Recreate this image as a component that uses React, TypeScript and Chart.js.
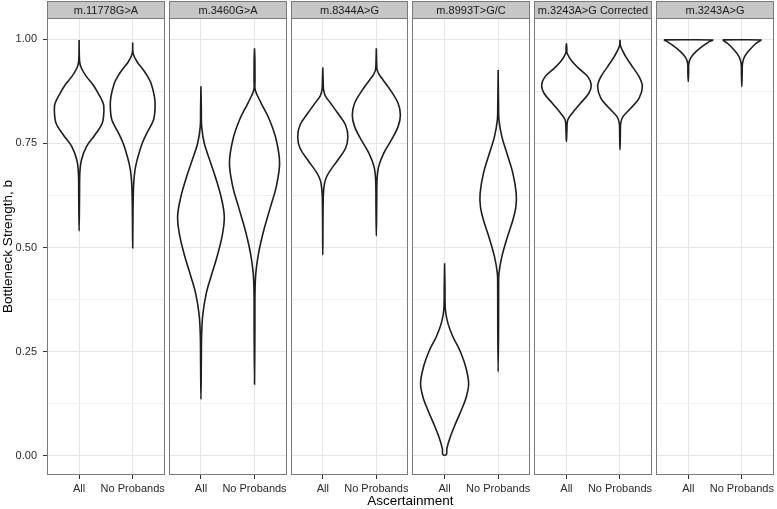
import { useEffect, useRef } from 'react';
import { Chart, registerables } from 'chart.js';

Chart.register(...registerables);

// ---- Data ----
const PANELS = ['m.11778G>A', 'm.3460G>A', 'm.8344A>G', 'm.8993T>G/C', 'm.3243A>G Corrected', 'm.3243A>G'];
const GROUPS = ['All', 'No Probands'];
const Y_TICKS = [0, 0.125, 0.25, 0.375, 0.5, 0.625, 0.75, 0.875, 1.0];

// Violin outlines: bottleneck strength b (top -> bottom) and density half-width (category units)
const B_11778_ALL = [0.998, 0.946, 0.93, 0.91, 0.89, 0.87, 0.846, 0.83, 0.798, 0.77, 0.742, 0.71, 0.678, 0.62, 0.54];
const W_11778_ALL = [0, 0.009, 0.043, 0.137, 0.262, 0.356, 0.449, 0.463, 0.431, 0.294, 0.137, 0.043, 0.013, 0.007, 0];
const B_11778_NP = [0.992, 0.965, 0.945, 0.926, 0.91, 0.894, 0.862, 0.837, 0.806, 0.774, 0.75, 0.726, 0.706, 0.686, 0.654, 0.6, 0.499];
const W_11778_NP = [0, 0.009, 0.084, 0.2, 0.281, 0.343, 0.406, 0.418, 0.388, 0.262, 0.178, 0.118, 0.075, 0.043, 0.019, 0.007, 0];

const B_3460_ALL = [0.887, 0.83, 0.79, 0.75, 0.71, 0.67, 0.622, 0.574, 0.526, 0.478, 0.43, 0.39, 0.342, 0.294, 0.23, 0.136];
const W_3460_ALL = [0, 0.007, 0.013, 0.062, 0.163, 0.268, 0.375, 0.436, 0.393, 0.3, 0.187, 0.099, 0.037, 0.013, 0.007, 0];
const B_3460_NP = [0.978, 0.95, 0.902, 0.878, 0.846, 0.806, 0.758, 0.702, 0.646, 0.598, 0.542, 0.486, 0.438, 0.39, 0.3, 0.172];
const W_3460_NP = [0, 0.007, 0.009, 0.013, 0.125, 0.281, 0.406, 0.468, 0.406, 0.3, 0.174, 0.075, 0.024, 0.009, 0.007, 0];

const B_8344_ALL = [0.932, 0.9, 0.878, 0.864, 0.85, 0.822, 0.794, 0.766, 0.738, 0.71, 0.682, 0.668, 0.654, 0.622, 0.482];
const W_8344_ALL = [0, 0.007, 0.015, 0.047, 0.125, 0.281, 0.425, 0.468, 0.425, 0.281, 0.125, 0.066, 0.032, 0.009, 0];
const B_8344_NP = [0.978, 0.94, 0.926, 0.914, 0.902, 0.874, 0.846, 0.818, 0.79, 0.758, 0.726, 0.694, 0.662, 0.6, 0.528];
const W_8344_NP = [0, 0.007, 0.015, 0.056, 0.125, 0.281, 0.406, 0.449, 0.406, 0.281, 0.137, 0.043, 0.013, 0.007, 0];

const B_8993_ALL = [0.462, 0.406, 0.35, 0.318, 0.286, 0.254, 0.214, 0.174, 0.142, 0.11, 0.078, 0.046, 0.018, 0.003];
const W_8993_ALL = [0, 0.007, 0.015, 0.062, 0.155, 0.281, 0.393, 0.449, 0.406, 0.313, 0.206, 0.107, 0.043, 0.032];
const B_8993_NP = [0.926, 0.846, 0.806, 0.766, 0.726, 0.678, 0.63, 0.598, 0.566, 0.526, 0.478, 0.438, 0.406, 0.3, 0.202];
const W_8993_NP = [0, 0.007, 0.015, 0.069, 0.163, 0.275, 0.337, 0.331, 0.275, 0.174, 0.069, 0.015, 0.009, 0.007, 0];

const B_3243C_ALL = [0.99, 0.978, 0.966, 0.946, 0.926, 0.91, 0.89, 0.87, 0.846, 0.822, 0.806, 0.782, 0.754];
const W_3243C_ALL = [0, 0.007, 0.013, 0.107, 0.262, 0.399, 0.463, 0.418, 0.262, 0.107, 0.024, 0.009, 0];
const B_3243C_NP = [0.998, 0.982, 0.958, 0.934, 0.91, 0.886, 0.858, 0.834, 0.814, 0.798, 0.774, 0.734];
const W_3243C_NP = [0, 0.013, 0.107, 0.23, 0.356, 0.418, 0.356, 0.2, 0.056, 0.013, 0.007, 0];

const B_3243_ALL = [0.998, 0.994, 0.986, 0.97, 0.956, 0.942, 0.92, 0.898];
const W_3243_ALL = [0.455, 0.393, 0.3, 0.144, 0.051, 0.011, 0.007, 0];
const B_3243_NP = [0.998, 0.994, 0.99, 0.974, 0.958, 0.942, 0.918, 0.886];
const W_3243_NP = [0.356, 0.318, 0.268, 0.144, 0.051, 0.013, 0.007, 0];

// [panel index, group index, b values, half-widths]
const VIOLINS: [number, number, number[], number[]][] = [
  [0, 0, B_11778_ALL, W_11778_ALL], [0, 1, B_11778_NP, W_11778_NP],
  [1, 0, B_3460_ALL, W_3460_ALL], [1, 1, B_3460_NP, W_3460_NP],
  [2, 0, B_8344_ALL, W_8344_ALL], [2, 1, B_8344_NP, W_8344_NP],
  [3, 0, B_8993_ALL, W_8993_ALL], [3, 1, B_8993_NP, W_8993_NP],
  [4, 0, B_3243C_ALL, W_3243C_ALL], [4, 1, B_3243C_NP, W_3243C_NP],
  [5, 0, B_3243_ALL, W_3243_ALL], [5, 1, B_3243_NP, W_3243_NP],
];

// ---- Facet layout (in x-scale units) ----
const SPAN = 2.2; // each facet: discrete scale 0.4..2.6
const GAP = 0.0746;
const STEP = SPAN + GAP;
const X_MAX = PANELS.length * SPAN + (PANELS.length - 1) * GAP;
const centerOf = (p: number, g: number) => p * STEP + 0.6 + g;
const X_TICKS: number[] = [];
PANELS.forEach((_, p) => GROUPS.forEach((__, g) => X_TICKS.push(centerOf(p, g))));

const FONT = 'Liberation Sans, Arial, Helvetica, sans-serif';

function outline(c: number, b: number[], w: number[]) {
  const pts = b.map((v, i) => ({ x: c - w[i], y: v }));
  for (let i = b.length - 1; i >= 0; i--) {
    if (i === b.length - 1 && w[i] === 0) continue;
    pts.push({ x: c + w[i], y: b[i] });
  }
  if (w[0] !== 0) pts.push({ x: c - w[0], y: b[0] });
  return pts;
}

const facetPlugin = {
  id: 'facetPlugin',
  beforeDatasetsDraw(chart: any) {
    const { ctx, chartArea } = chart;
    const xs = chart.scales.x;
    ctx.save();
    ctx.fillStyle = '#ffffff';
    for (let k = 0; k < PANELS.length - 1; k++) {
      const a = Math.round(xs.getPixelForValue(k * STEP + SPAN));
      const b = Math.round(xs.getPixelForValue((k + 1) * STEP));
      ctx.fillRect(a, chartArea.top - 2, b - a, chartArea.bottom - chartArea.top + 4);
    }
    ctx.restore();
  },
  afterDatasetsDraw(chart: any) {
    const { ctx, chartArea } = chart;
    const xs = chart.scales.x;
    const top = Math.round(chartArea.top) + 0.5;
    const bottom = Math.round(chartArea.bottom) - 0.5;
    const stripTop = 1.5;
    ctx.save();
    PANELS.forEach((name, k) => {
      const L = Math.round(xs.getPixelForValue(k * STEP)) + 0.5;
      const R = Math.round(xs.getPixelForValue(k * STEP + SPAN)) - 0.5;
      // strip
      ctx.fillStyle = '#c6c6c6';
      ctx.fillRect(L, stripTop, R - L, top - stripTop);
      ctx.strokeStyle = '#7a7a7a';
      ctx.lineWidth = 1;
      ctx.strokeRect(L, stripTop, R - L, top - stripTop);
      ctx.fillStyle = '#1a1a1a';
      ctx.font = `11px ${FONT}`;
      ctx.textAlign = 'center';
      ctx.textBaseline = 'middle';
      ctx.fillText(name, (L + R) / 2, (stripTop + top) / 2 + 0.5);
      // panel border
      ctx.strokeStyle = '#7a7a7a';
      ctx.strokeRect(L, top, R - L, bottom - top);
    });
    ctx.restore();
  },
};

export default function App() {
  const ref = useRef<HTMLCanvasElement | null>(null);
  useEffect(() => {
    if (!ref.current) return;
    const isMajor = (v: number) => Math.abs(v / 0.25 - Math.round(v / 0.25)) < 1e-9;
    const datasets = VIOLINS.map(([p, g, b, w]) => ({
      label: `${PANELS[p]} ${GROUPS[g]}`,
      data: outline(centerOf(p, g), b, w),
      showLine: true,
      borderColor: '#1e1e1e',
      borderWidth: 1.6,
      pointRadius: 0,
      tension: 0.35,
      fill: false,
    }));
    const chart = new Chart(ref.current, {
      type: 'scatter',
      data: { datasets },
      plugins: [facetPlugin],
      options: {
        animation: false,
        responsive: true,
        maintainAspectRatio: false,
        devicePixelRatio: 1,
        events: [],
        layout: { padding: { top: 18, right: 2, left: 0, bottom: 0 } },
        plugins: { legend: { display: false }, tooltip: { enabled: false } },
        scales: {
          x: {
            type: 'linear',
            min: 0,
            max: X_MAX,
            afterBuildTicks: (s: any) => { s.ticks = X_TICKS.map((v) => ({ value: v })); },
            afterFit: (s: any) => { s.height = 34; },
            border: { display: false },
            grid: { color: '#e6e6e6', lineWidth: 1, tickColor: '#333333', tickLength: 4, drawTicks: true },
            ticks: {
              autoSkip: false,
              maxRotation: 0,
              minRotation: 0,
              padding: 3,
              color: '#2a2a2a',
              font: { family: FONT, size: 11 },
              callback: (_v: any, i: number) => GROUPS[i % GROUPS.length],
            },
            title: {
              display: true,
              text: 'Ascertainment',
              color: '#000000',
              font: { family: FONT, size: 13.5 },
              padding: { top: 0, bottom: 0 },
            },
          },
          y: {
            type: 'linear',
            min: -0.0458,
            max: 1.0506,
            afterBuildTicks: (s: any) => { s.ticks = Y_TICKS.map((v) => ({ value: v })); },
            afterFit: (s: any) => { s.width = 47; },
            border: { display: false },
            grid: {
              color: (c: any) => (c.tick && isMajor(c.tick.value) ? '#e6e6e6' : '#f0f0f0'),
              tickColor: (c: any) => (c.tick && isMajor(c.tick.value) ? '#333333' : 'rgba(0,0,0,0)'),
              lineWidth: 1,
              tickLength: 4,
            },
            ticks: {
              padding: 6,
              color: '#2a2a2a',
              font: { family: FONT, size: 11 },
              callback: (v: any) => (isMajor(Number(v)) ? Number(v).toFixed(2) : ''),
            },
            title: {
              display: true,
              text: 'Bottleneck Strength, b',
              color: '#000000',
              font: { family: FONT, size: 13.5 },
              padding: { top: 0, bottom: 0 },
            },
          },
        },
      },
    } as any);
    return () => chart.destroy();
  }, []);
  return (
    <div style={{ position: 'absolute', left: 0, top: 0, width: 777, height: 509, background: '#ffffff' }}>
      <canvas ref={ref} />
    </div>
  );
}
